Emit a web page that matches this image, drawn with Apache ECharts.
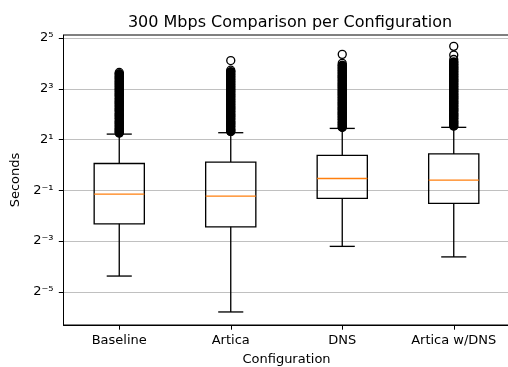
<!DOCTYPE html>
<html>
<head>
<meta charset="utf-8">
<script src="https://cdn.jsdelivr.net/npm/echarts@6/dist/echarts.min.js"></script>
<style>
  html, body { margin: 0; padding: 0; background: #fff; }
  #chart { width: 508px; height: 367px; }
</style>
</head>
<body>
<div id="chart"></div>
<script>
// Configurations compared at 300 Mbps
const categories = ['Baseline', 'Artica', 'DNS', 'Artica w/DNS'];

// Five-number summaries in seconds: [lower whisker, Q1, median, Q3, upper whisker]
const baselineStats    = [0.048, 0.200, 0.450, 1.04, 2.32];
const articaStats      = [0.018, 0.184, 0.426, 1.08, 2.41];
const dnsStats         = [0.108, 0.400, 0.690, 1.30, 2.71];
const articaDnsStats   = [0.081, 0.350, 0.660, 1.35, 2.79];

// Outliers above the upper whisker, in seconds
const baselineOutliers = [2.4, 2.55, 2.7, 2.9, 3.1, 3.3, 3.55, 3.8, 4.05, 4.35, 4.65, 5.0, 5.35,
  5.7, 6.1, 6.55, 7.0, 7.5, 8.0, 8.6, 9.2, 9.8, 10.5, 11.2, 12.0, 12.5];
const articaOutliers = [2.5, 2.65, 2.85, 3.05, 3.25, 3.5, 3.75, 4.0, 4.3, 4.6, 4.9, 5.25, 5.6,
  6.0, 6.45, 6.9, 7.4, 7.9, 8.45, 9.05, 9.7, 10.4, 11.1, 11.9, 12.7, 13.3, 17.3];
const dnsOutliers = [2.8, 3.0, 3.2, 3.45, 3.7, 3.95, 4.2, 4.5, 4.8, 5.15, 5.5, 5.9, 6.3, 6.75,
  7.2, 7.7, 8.25, 8.8, 9.4, 10.1, 10.8, 11.5, 12.3, 13.2, 14.1, 15.1, 16.0, 20.5];
const articaDnsOutliers = [2.9, 3.1, 3.3, 3.55, 3.8, 4.05, 4.35, 4.65, 5.0, 5.35, 5.7, 6.1, 6.5,
  6.95, 7.45, 7.95, 8.5, 9.1, 9.75, 10.4, 11.1, 11.9, 12.7, 13.6, 14.5, 15.5, 16.6, 17.8, 20.1, 25.5];

// Log2 y axis: tick exponents and their labels, plus the visible range in exponents
const yTickExponents = [-5, -3, -1, 1, 3, 5];
const yTickLabels = ['2\u207B\u2075', '2\u207B\u00B3', '2\u207B\u00B9', '2\u00B9', '2\u00B3', '2\u2075'];
const yMinExponent = -6.31;
const yMaxExponent = 5.12;

const statsList = [baselineStats, articaStats, dnsStats, articaDnsStats];
const outlierList = [baselineOutliers, articaOutliers, dnsOutliers, articaDnsOutliers];

const FONT = 'DejaVu Sans';
const LW = 1.33;

const boxData = statsList.map((s, i) => [i].concat(s));

// Every outlier gets a hollow ring; where rings are packed tightly they read as a solid bar,
// so points with a close neighbour above are also filled.
const ringData = [];
const fillData = [];
outlierList.forEach((vals, i) => {
  const sorted = vals.slice().sort((a, b) => a - b);
  sorted.forEach((v, k) => {
    ringData.push([i, v]);
    const next = sorted[k + 1];
    if (next !== undefined && Math.log2(next / v) < 0.15) fillData.push([i, v]);
  });
});

const yTickValues = yTickExponents.map(e => Math.pow(2, e));
function yLabel(v) {
  const e = Math.round(Math.log2(v));
  const idx = yTickExponents.indexOf(e);
  return idx >= 0 ? yTickLabels[idx] : '';
}

function renderBox(params, api) {
  const x = api.value(0);
  const pLow = api.coord([x, api.value(1)]);
  const pQ1 = api.coord([x, api.value(2)]);
  const pMed = api.coord([x, api.value(3)]);
  const pQ3 = api.coord([x, api.value(4)]);
  const pHigh = api.coord([x, api.value(5)]);
  const band = api.size([1, 1])[0];
  const half = band * 0.45 / 2;
  const capHalf = half / 2;
  const cx = pMed[0];
  const stroke = { stroke: '#000', lineWidth: LW, fill: null };
  return {
    type: 'group',
    children: [
      { type: 'line', shape: { x1: cx, y1: pQ1[1], x2: cx, y2: pLow[1] }, style: stroke },
      { type: 'line', shape: { x1: cx, y1: pQ3[1], x2: cx, y2: pHigh[1] }, style: stroke },
      { type: 'line', shape: { x1: cx - capHalf, y1: pLow[1], x2: cx + capHalf, y2: pLow[1] }, style: stroke },
      { type: 'line', shape: { x1: cx - capHalf, y1: pHigh[1], x2: cx + capHalf, y2: pHigh[1] }, style: stroke },
      { type: 'rect', shape: { x: cx - half, y: pQ3[1], width: half * 2, height: pQ1[1] - pQ3[1] },
        style: { stroke: '#000', lineWidth: LW, fill: null } },
      { type: 'line', shape: { x1: cx - half, y1: pMed[1], x2: cx + half, y2: pMed[1] },
        style: { stroke: '#ff7f0e', lineWidth: LW } }
    ]
  };
}

const chart = echarts.init(document.getElementById('chart'), null, { renderer: 'canvas' });
chart.setOption({
  animation: false,
  backgroundColor: '#fff',
  title: {
    text: '300 Mbps Comparison per Configuration',
    left: 285,
    top: 10,
    textAlign: 'center',
    textStyle: { fontFamily: FONT, fontSize: 16, fontWeight: 'normal', color: '#000' }
  },
  grid: {
    left: 63.5, top: 35, width: 446, height: 290,
    outerBoundsMode: 'none',
    containLabel: false,
    show: true, borderColor: '#000', borderWidth: 1, backgroundColor: 'transparent'
  },
  xAxis: {
    type: 'category',
    data: categories,
    boundaryGap: true,
    name: 'Configuration',
    nameLocation: 'middle',
    nameGap: 28,
    nameTextStyle: { fontFamily: FONT, fontSize: 13, color: '#000' },
    axisLine: { show: true, lineStyle: { color: '#000', width: 1 } },
    axisTick: { show: true, alignWithLabel: true, length: 4.7, lineStyle: { color: '#000', width: 1 } },
    axisLabel: { fontFamily: FONT, fontSize: 13, color: '#000', margin: 9, interval: 0 },
    splitLine: { show: false }
  },
  yAxis: {
    type: 'log',
    logBase: 2,
    min: Math.pow(2, yMinExponent),
    max: Math.pow(2, yMaxExponent),
    name: 'Seconds',
    nameLocation: 'middle',
    nameGap: 41,
    nameTextStyle: { fontFamily: FONT, fontSize: 13, color: '#000' },
    axisLine: { show: true, lineStyle: { color: '#000', width: 1 } },
    axisTick: { show: true, length: 4.7, customValues: yTickValues, lineStyle: { color: '#000', width: 1 } },
    axisLabel: { fontFamily: FONT, fontSize: 13, color: '#000', margin: 10,
      customValues: yTickValues, formatter: yLabel },
    splitLine: { show: true, lineStyle: { color: '#c0c0c0', width: 1 } },
    minorTick: { show: false },
    minorSplitLine: { show: false }
  },
  series: [
    {
      name: 'boxes',
      type: 'custom',
      renderItem: renderBox,
      data: boxData,
      encode: { x: 0, y: [1, 2, 3, 4, 5] },
      silent: true,
      z: 3
    },
    {
      name: 'outlierRings',
      type: 'scatter',
      data: ringData,
      symbol: 'circle',
      symbolSize: 8,
      itemStyle: { color: 'rgba(0,0,0,0)', borderColor: '#000', borderWidth: LW, opacity: 1 },
      silent: true,
      z: 4
    },
    {
      name: 'outlierFill',
      type: 'scatter',
      data: fillData,
      symbol: 'circle',
      symbolSize: 8,
      itemStyle: { color: '#000', borderColor: '#000', borderWidth: LW, opacity: 1 },
      silent: true,
      z: 5
    }
  ]
});
</script>
</body>
</html>
